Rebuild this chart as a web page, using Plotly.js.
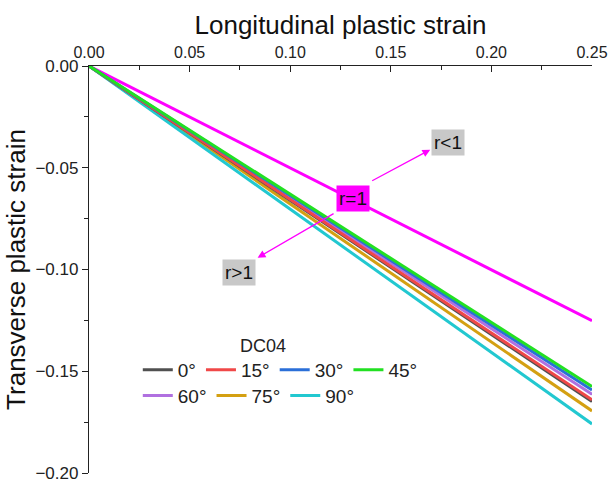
<!DOCTYPE html>
<html>
<head>
<meta charset="utf-8">
<script src="https://cdn.plot.ly/plotly-3.0.1.min.js"></script>
<style>html,body{margin:0;padding:0;background:#fff}#chart{width:611px;height:482px}</style>
</head>
<body>
<div id="chart"></div>
<script>
// Data
const strainX = [0, 0.25];
const seriesNames = ['0°', '15°', '30°', '45°', '60°', '75°', '90°'];
const seriesEnd = [-0.1649, -0.1640, -0.1592, -0.1575, -0.1613, -0.1695, -0.1759];
const seriesColors = ['#505050', '#f04848', '#2b6fd8', '#22e022', '#b070e0', '#d4a012', '#22c8d0'];
const isoName = 'r=1';
const isoEnd = -0.1252;
const xTicks = [0, 0.05, 0.10, 0.15, 0.20, 0.25];
const yTicks = [0, -0.05, -0.10, -0.15, -0.20];

const traces = [];
traces.push({x: strainX, y: [0, isoEnd], mode: 'lines', name: isoName, showlegend: false,
  line: {color: '#ff00ff', width: 3}});
seriesNames.forEach((n, i) => {
  traces.push({x: strainX, y: [0, seriesEnd[i]], mode: 'lines', name: n,
    legend: i < 4 ? 'legend' : 'legend2', legendrank: i + 1,
    line: {color: seriesColors[i], width: 3}});
});
// draw order: green on top like the reference
const drawn = [traces[0]].concat([6, 7, 5, 1, 2, 3, 4].map(k => traces[k]));

const fam = 'Liberation Sans, Arial, sans-serif';
const layout = {
  width: 611, height: 482,
  margin: {l: 89, r: 19, t: 66, b: 9},
  paper_bgcolor: '#fff', plot_bgcolor: '#fff',
  font: {family: fam, color: '#111'},
  xaxis: {
    side: 'top', range: [0, 0.25], tickvals: xTicks, tickformat: '.2f',
    ticklabeloverflow: 'allow',
    showline: true, linecolor: '#222', linewidth: 1.2, mirror: false,
    ticks: 'inside', ticklen: 6, tickcolor: '#222', showgrid: false, zeroline: false,
    tickfont: {size: 16, family: fam, color: '#222'},
    minor: {dtick: 0.025, ticks: 'inside', ticklen: 4, tickcolor: '#222', showgrid: false},
    title: {text: 'Longitudinal plastic strain', font: {size: 26, family: fam, color: '#111'}, standoff: 2}
  },
  yaxis: {
    range: [-0.2, 0], tickvals: yTicks, tickformat: '.2f',
    ticklabeloverflow: 'allow',
    showline: true, linecolor: '#222', linewidth: 1.2, mirror: false,
    ticks: 'outside', ticklen: 6, tickcolor: '#222', showgrid: false, zeroline: false,
    tickfont: {size: 17, family: fam, color: '#222'},
    minor: {dtick: 0.025, ticks: 'outside', ticklen: 4, tickcolor: '#222', showgrid: false},
    title: {text: 'Transverse plastic strain', font: {size: 26, family: fam, color: '#111'}, standoff: 2}
  },
  legend: {orientation: 'h', x: 0.097, y: 0.30, xanchor: 'left', yanchor: 'top',
    bgcolor: 'rgba(0,0,0,0)', font: {size: 19, family: fam, color: '#222'},
    itemwidth: 30, tracegroupgap: 0, traceorder: 'normal'},
  legend2: {orientation: 'h', x: 0.097, y: 0.237, xanchor: 'left', yanchor: 'top',
    bgcolor: 'rgba(0,0,0,0)', font: {size: 19, family: fam, color: '#222'},
    itemwidth: 30, tracegroupgap: 0, traceorder: 'normal'},
  annotations: [
    {x: 0.1312, y: -0.0649, text: 'r=1', showarrow: false, bgcolor: '#ff00ff',
      font: {size: 19, family: fam, color: '#111'}, borderpad: 2},
    {x: 0.1785, y: -0.0376, text: 'r<1', showarrow: false, bgcolor: '#c8c8c8',
      font: {size: 19, family: fam, color: '#111'}, borderpad: 2},
    {x: 0.0745, y: -0.1014, text: 'r>1', showarrow: false, bgcolor: '#c8c8c8',
      font: {size: 19, family: fam, color: '#111'}, borderpad: 2},
    {x: 0.1696, y: -0.0411, ax: 0.14, ay: -0.0568, axref: 'x', ayref: 'y', text: '',
      showarrow: true, arrowhead: 2, arrowsize: 1.2, arrowwidth: 1.3, arrowcolor: '#ff00ff'},
    {x: 0.0838, y: -0.0942, ax: 0.1223, ay: -0.0721, axref: 'x', ayref: 'y', text: '',
      showarrow: true, arrowhead: 2, arrowsize: 1.2, arrowwidth: 1.3, arrowcolor: '#ff00ff'},
    {x: 0.0865, y: -0.1377, text: 'DC04', showarrow: false,
      font: {size: 18, family: fam, color: '#222'}}
  ]
};
Plotly.newPlot('chart', drawn, layout, {displayModeBar: false, staticPlot: true});
</script>
</body>
</html>
